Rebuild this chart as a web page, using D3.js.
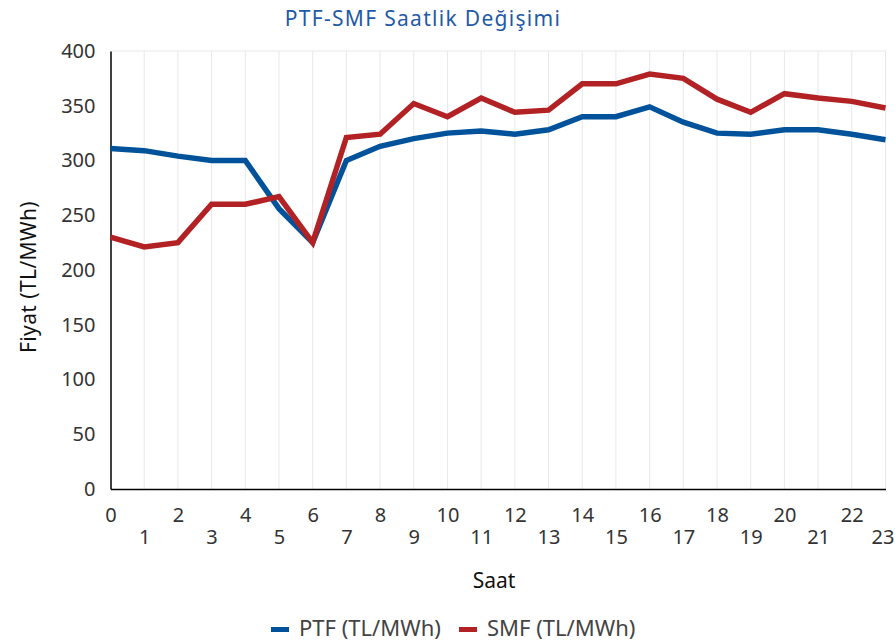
<!DOCTYPE html>
<html>
<head>
<meta charset="utf-8">
<script src="https://cdn.jsdelivr.net/npm/d3@7"></script>
<style>
  body { margin: 0; background: #fff; }
  svg text { font-family: "Noto Sans", sans-serif; }
</style>
</head>
<body>
<div id="chart"></div>
<script>
// hourly data
const hours = d3.range(0, 24);
const ptf = [311, 309, 304, 300, 300, 256, 225, 300, 313, 320, 325, 327, 324, 328, 340, 340, 349, 335, 325, 324, 328, 328, 324, 319];
const smf = [230, 221, 225, 260, 260, 267, 225, 321, 324, 352, 340, 357, 344, 346, 370, 370, 379, 375, 356, 344, 361, 357, 354, 348];
const yTicks = [0, 50, 100, 150, 200, 250, 300, 350, 400];
const seriesNames = ['PTF (TL/MWh)', 'SMF (TL/MWh)'];
const colors = ['#00529b', '#b22225'];

const width = 895, height = 642;
const margin = {top: 51, right: 9.5, bottom: 153, left: 110.5};

const svg = d3.select('#chart')
  .append('svg')
  .attr('width', width)
  .attr('height', height);

const x = d3.scaleLinear()
  .domain([0, 23])
  .range([margin.left, width - margin.right]);
const y = d3.scaleLinear()
  .domain([0, 400])
  .range([height - margin.bottom, margin.top]);

// vertical gridlines
svg.append('g')
  .selectAll('line')
  .data(hours.slice(1))
  .enter()
  .append('line')
  .attr('x1', d => x(d)).attr('x2', d => x(d))
  .attr('y1', y(400)).attr('y2', y(0))
  .attr('stroke', '#e8e8e8')
  .attr('stroke-width', 1);

// top border
svg.append('line')
  .attr('x1', x(0)).attr('x2', x(23))
  .attr('y1', y(400)).attr('y2', y(400))
  .attr('stroke', '#e8e8e8');

// y axis
const yAxis = svg.append('g')
  .attr('transform', `translate(${x(0)},0)`)
  .call(d3.axisLeft(y).tickValues(yTicks).tickSize(0).tickPadding(15));
yAxis.select('.domain').attr('stroke', '#000').attr('stroke-width', 1.5);
yAxis.selectAll('text').attr('font-size', 20).attr('fill', '#333');

// x axis, labels staggered on two rows
const xAxis = svg.append('g')
  .attr('transform', `translate(0,${y(0)})`)
  .call(d3.axisBottom(x).tickValues(hours).tickSize(0).tickFormat(d3.format('d')));
xAxis.select('.domain').attr('stroke', '#000').attr('stroke-width', 1.5);
xAxis.selectAll('text')
  .attr('font-size', 20)
  .attr('fill', '#333')
  .attr('y', d => d % 2 === 0 ? 19 : 41)
  .attr('dx', d => d === 23 ? -3 : 0);

// lines
const line = d3.line()
  .x((d, i) => x(hours[i]))
  .y(d => y(d));

[ptf, smf].forEach((s, i) => {
  svg.append('path')
    .datum(s)
    .attr('d', line)
    .attr('fill', 'none')
    .attr('stroke', colors[i])
    .attr('stroke-width', 5.5)
    .attr('stroke-linejoin', 'miter');
});

// title
svg.append('text')
  .attr('x', 423)
  .attr('y', 26)
  .attr('text-anchor', 'middle')
  .attr('font-size', 21)
  .attr('letter-spacing', 1.3)
  .attr('fill', '#1f5aa6')
  .text('PTF-SMF Saatlik Değişimi');

// axis titles
svg.append('text')
  .attr('transform', 'translate(36,277) rotate(-90)')
  .attr('text-anchor', 'middle')
  .attr('font-size', 21)
  .attr('letter-spacing', 0.4)
  .attr('fill', '#111')
  .text('Fiyat (TL/MWh)');

svg.append('text')
  .attr('x', 494)
  .attr('y', 588)
  .attr('text-anchor', 'middle')
  .attr('font-size', 21)
  .attr('fill', '#111')
  .text('Saat');

// legend
const legendX = [271, 459];
const legend = svg.append('g');
seriesNames.forEach((name, i) => {
  legend.append('rect')
    .attr('x', legendX[i]).attr('y', 627)
    .attr('width', 18).attr('height', 5)
    .attr('fill', colors[i]);
  legend.append('text')
    .attr('x', legendX[i] + 28)
    .attr('y', 636)
    .attr('font-size', 22)
    .attr('fill', '#444')
    .text(name);
});
</script>
</body>
</html>
